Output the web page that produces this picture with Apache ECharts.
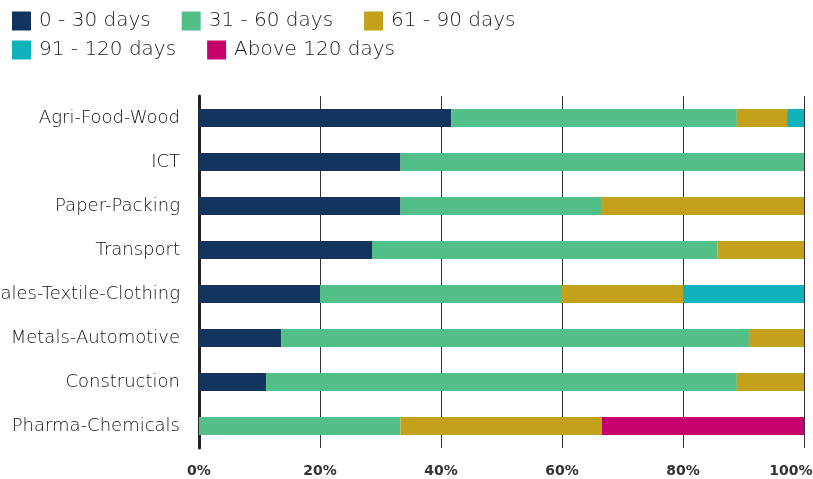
<!DOCTYPE html>
<html><head><meta charset="utf-8">
<script src="https://cdn.jsdelivr.net/npm/echarts@6/dist/echarts.min.js"></script>
<style>html,body{margin:0;padding:0;background:#fff}#c{width:813px;height:479px}</style>
</head><body><div id="c"></div>
<script>
const categories = ['Agri-Food-Wood','ICT','Paper-Packing','Transport','Sales-Textile-Clothing','Metals-Automotive','Construction','Pharma-Chemicals'];
const seriesNames = ['0 - 30 days','31 - 60 days','61 - 90 days','91 - 120 days','Above 120 days'];
const d0_30   = [41.7, 33.3, 33.3, 28.6, 20.0, 13.6, 11.1, 0];
const d31_60  = [47.2, 66.7, 33.3, 57.1, 40.0, 77.3, 77.8, 33.3];
const d61_90  = [8.3, 0, 33.4, 14.3, 20.0, 9.1, 11.1, 33.3];
const d91_120 = [2.8, 0, 0, 0, 20.0, 0, 0, 0];
const dAbove  = [0, 0, 0, 0, 0, 0, 0, 33.4];
const xTicks = [0, 20, 40, 60, 80, 100];
const colors = ['#12355e','#52be88','#c4a11a','#12b2bc','#c6006d'];
const allData = [d0_30, d31_60, d61_90, d91_120, dAbove];

const chart = echarts.init(document.getElementById('c'));
const font = '"DejaVu Sans", sans-serif';
const legendBase = {
  left: 7, itemWidth: 19, itemHeight: 19, itemGap: 31, icon: 'rect',
  textStyle: {fontFamily: font, fontSize: 20, fontWeight: 200, color: '#1a1a1a', padding: [0,0,0,3]},
  selectedMode: false
};
chart.setOption({
  animation: false,
  color: colors,
  legend: [
    Object.assign({}, legendBase, {top: 6, data: seriesNames.slice(0,3)}),
    Object.assign({}, legendBase, {top: 35, data: seriesNames.slice(3)})
  ],
  grid: {left: 199, right: 9, top: 96, bottom: 31, containLabel: false, outerBoundsMode: 'none'},
  xAxis: {
    type: 'value', min: 0, max: 100, interval: 20,
    axisLine: {show: false}, axisTick: {show: false},
    splitLine: {show: true, lineStyle: {color: '#333', width: 1}},
    axisLabel: {
      formatter: v => !xTicks.includes(v) ? '' : (v === 100 ? '{m|' + v + '%}' : v + '%'),
      fontFamily: font, fontSize: 14, fontWeight: 'bold', color: '#333', margin: 16,
      rich: {m: {fontFamily: font, fontSize: 14, fontWeight: 'bold', color: '#333', padding: [0, 26, 0, 0]}}
    }
  },
  yAxis: {
    type: 'category', data: categories, inverse: true,
    axisLine: {show: true, lineStyle: {color: '#222', width: 3}},
    axisTick: {show: false},
    axisLabel: {fontFamily: font, fontSize: 18, fontWeight: 200, color: '#111', margin: 19, padding: [0, 0, 6, 0]}
  },
  series: seriesNames.map((n, i) => ({
    name: n, type: 'bar', stack: 'total', barWidth: 18,
    data: allData[i], itemStyle: {color: colors[i]}
  }))
});
</script></body></html>
